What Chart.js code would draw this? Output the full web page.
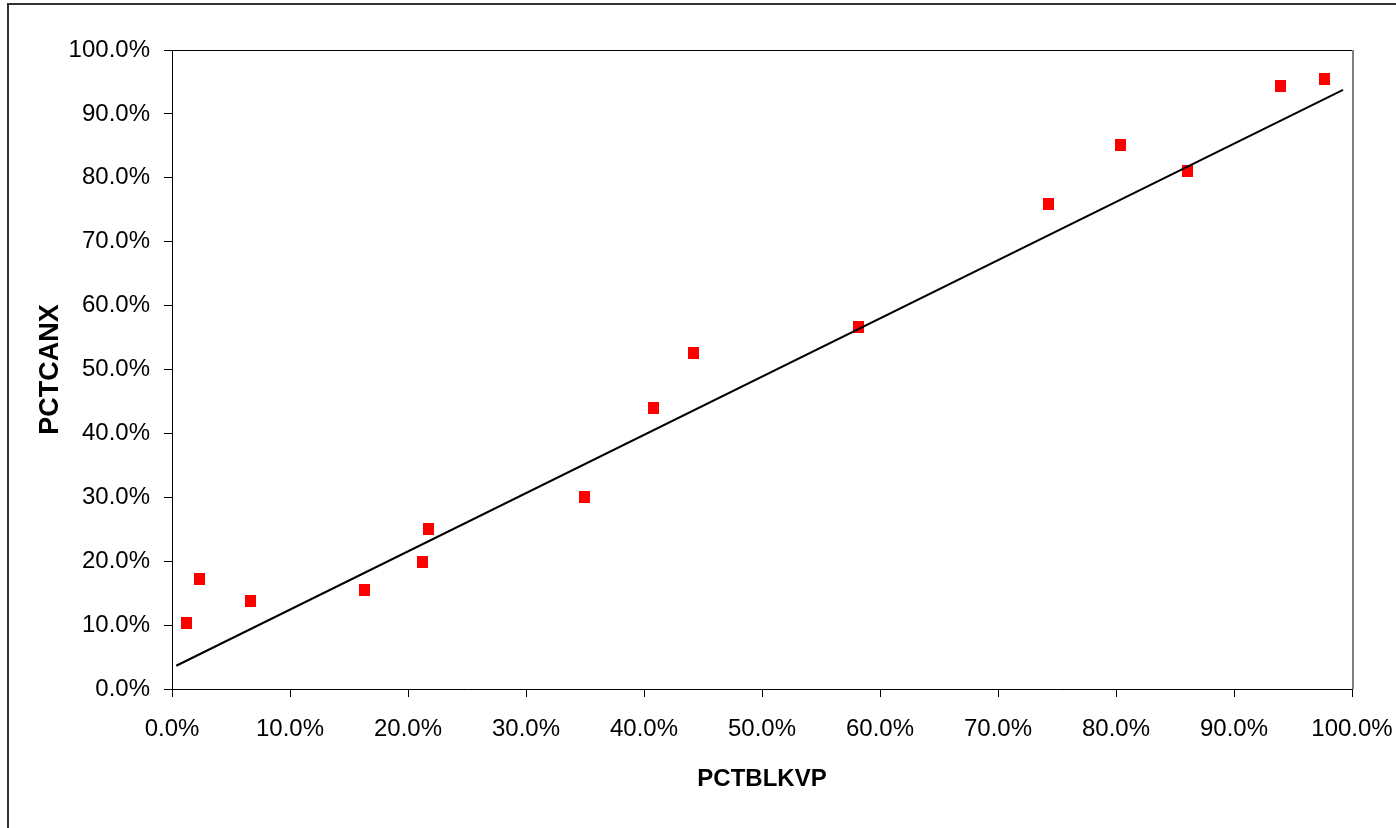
<!DOCTYPE html>
<html>
<head>
<meta charset="utf-8">
<script src="https://cdn.jsdelivr.net/npm/chart.js@4"></script>
<style>
  html, body { margin: 0; padding: 0; background: #fff; overflow: hidden; }
  #frame { position: absolute; left: 7px; top: 3px; width: 1600px; height: 1000px; border: 2px solid #333; }
  #wrap { position: absolute; left: 0; top: 0; width: 1396px; height: 828px; }
</style>
</head>
<body>
<div id="frame"></div>
<div id="wrap"><canvas id="myChart" width="1396" height="828"></canvas></div>
<script>
// values, in percent
const pctBlkVp = [1.27, 2.34, 6.66, 16.32, 21.27, 21.75, 34.97, 40.81, 44.2, 58.22, 74.24, 80.36, 86.07, 93.92, 97.63];
const pctCanX = [10.32, 17.2, 13.77, 15.42, 19.87, 25.03, 30.08, 44.05, 52.56, 56.62, 75.96, 85.19, 81.12, 94.37, 95.42];

// trend line ends
const trendX = [0.36, 99.24];
const trendY = [3.64, 93.75];

const axisMin = 0;
const axisMax = 100;
const axisStep = 10;

const xTitle = 'PCTBLKVP';
const yTitle = 'PCTCANX';

// red square marker, a bit taller than wide
const marker = document.createElement('canvas');
marker.width = 11;
marker.height = 12;
const mctx = marker.getContext('2d');
mctx.fillStyle = '#ff0000';
mctx.fillRect(0, 0, 11, 12);

const points = pctBlkVp.map((x, i) => ({ x: x, y: pctCanX[i] }));
const trend = trendX.map((x, i) => ({ x: x, y: trendY[i] }));

// top edge black, right edge gray, like the excel plot area
const plotFrame = {
    id: 'plotFrame',
    afterDraw(chart) {
        const { ctx, chartArea: a } = chart;
        ctx.save();
        ctx.strokeStyle = '#000';
        ctx.lineWidth = 1;
        ctx.beginPath();
        ctx.moveTo(a.left, Math.round(a.top) + 0.5);
        ctx.lineTo(a.right, Math.round(a.top) + 0.5);
        ctx.stroke();
        ctx.strokeStyle = '#808080';
        ctx.lineWidth = 2;
        ctx.beginPath();
        ctx.moveTo(Math.round(a.right) + 1, a.top);
        ctx.lineTo(Math.round(a.right) + 1, a.bottom);
        ctx.stroke();
        ctx.restore();
    }
};

const pct = v => Number(v).toFixed(1) + '%';
const tickFont = { family: '"Liberation Sans", Arial, sans-serif', size: 24 };

const data = {
    datasets: [{
        type: 'line',
        label: 'trend',
        data: trend,
        borderColor: '#000',
        borderWidth: 2,
        pointRadius: 0,
        fill: false,
        order: 0
    }, {
        type: 'scatter',
        label: yTitle,
        data: points,
        pointStyle: marker,
        backgroundColor: '#ff0000',
        borderColor: '#ff0000',
        order: 1
    }]
};

const config = {
    type: 'scatter',
    data: data,
    plugins: [plotFrame],
    options: {
        responsive: false,
        animation: false,
        layout: { padding: { top: 50, right: 44, left: 0, bottom: 0 } },
        plugins: { legend: { display: false }, tooltip: { enabled: false } },
        scales: {
            x: {
                type: 'linear',
                min: axisMin,
                max: axisMax,
                afterFit: s => { s.height = 139; s.paddingLeft = 0; s.paddingRight = 0; },
                ticks: { stepSize: axisStep, callback: pct, color: '#000', font: tickFont, padding: 18, maxRotation: 0 },
                grid: { drawOnChartArea: false, drawTicks: true, tickLength: 8, color: '#000' },
                border: { display: true, color: '#000', width: 1 },
                title: {
                    display: true,
                    text: xTitle,
                    color: '#000',
                    font: { family: '"Liberation Sans", Arial, sans-serif', size: 24, weight: 'bold' },
                    padding: { top: 0, bottom: 34 }
                }
            },
            y: {
                type: 'linear',
                min: axisMin,
                max: axisMax,
                afterFit: s => { s.width = 172; s.paddingTop = 0; s.paddingBottom = 0; },
                ticks: { stepSize: axisStep, callback: pct, color: '#000', font: tickFont, padding: 14 },
                grid: { drawOnChartArea: false, drawTicks: true, tickLength: 8, color: '#000' },
                border: { display: true, color: '#000', width: 1 },
                title: {
                    display: true,
                    text: yTitle,
                    color: '#000',
                    font: { family: '"Liberation Sans", Arial, sans-serif', size: 27, weight: 'bold' },
                    padding: { top: 34, bottom: 0 }
                }
            }
        }
    }
};

const myChart = new Chart(
    document.getElementById('myChart'),
    config
);
</script>
</body>
</html>
